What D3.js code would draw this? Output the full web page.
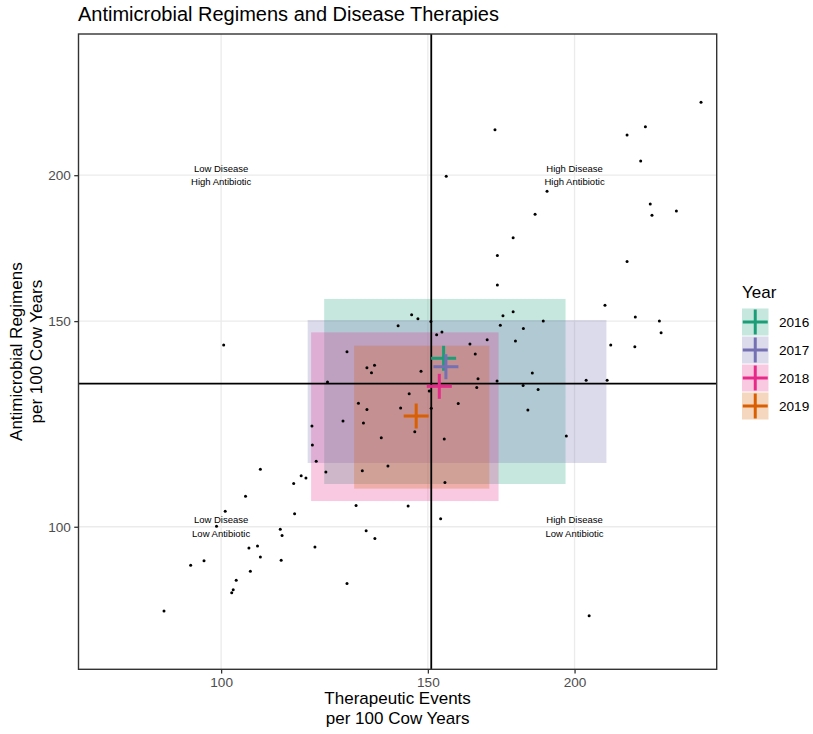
<!DOCTYPE html>
<html>
<head>
<meta charset="utf-8">
<script src="https://cdn.jsdelivr.net/npm/d3@7"></script>
<style>
  html, body { margin: 0; padding: 0; background: #fff; }
  svg { display: block; font-family: "Liberation Sans", Arial, sans-serif; }
</style>
</head>
<body>
<div id="chart"></div>
<script>
// herd-level points: therapeutic events (x) and antimicrobial regimens (y), per 100 cow years
const therapeuticEvents = [
  256.3, 229.8, 221.7, 171.1, 227.7, 155.5, 189.5, 232.0, 232.8, 244.2,
  185.1, 177.3, 171.9, 221.7, 171.9, 212.3, 173.8, 177.3, 225.3, 172.9,
  236.2, 188.1, 180.9, 237.0, 152.6, 154.2, 178.1, 168.5, 162.9, 164.6,
  214.7, 225.1, 150.9, 145.3, 147.1, 141.5, 128.0, 100.5, 148.0, 184.1,
  165.5, 171.8, 204.6, 213.2, 180.8, 165.1, 186.2, 150.4, 159.2, 151.0,
  182.5, 154.9, 196.8, 155.1, 153.8, 205.8, 133.1, 135.1, 134.3, 123.2,
  144.6, 130.9, 142.2, 133.1, 127.0, 132.2, 146.2, 119.5, 119.6, 136.9,
  120.5, 108.0, 131.9, 138.7, 122.8, 117.0, 118.1, 115.3, 104.9, 100.8,
  115.5, 130.3, 144.3, 99.1, 112.3, 112.7, 132.9, 135.2, 105.6, 107.4,
  108.0, 96.7, 94.2, 112.5, 120.2, 105.9, 103.0, 102.4, 102.1, 128.0,
  89.4
];
const antimicrobialRegimens = [
  230.9, 220.0, 216.5, 218.7, 205.7, 199.6, 193.8, 189.0, 184.8, 186.4,
  185.2, 176.8, 170.7, 168.7, 161.1, 154.8, 151.6, 152.8, 151.2, 148.8,
  150.0, 150.0, 147.8, 146.6, 146.0, 146.8, 144.2, 144.6, 143.4, 140.6,
  143.1, 142.6, 149.9, 151.9, 150.7, 148.6, 141.2, 143.1, 135.9, 135.4,
  133.9, 133.3, 133.5, 133.5, 132.1, 131.6, 131.1, 130.7, 127.5, 126.3,
  125.9, 118.9, 119.6, 109.1, 101.6, 83.9, 136.8, 137.5, 135.5, 133.0,
  130.0, 127.6, 126.4, 126.0, 123.2, 122.7, 120.6, 122.0, 117.5, 119.2,
  113.8, 112.0, 111.7, 112.7, 111.4, 110.6, 110.1, 108.9, 106.2, 103.1,
  102.6, 104.3, 104.2, 100.1, 99.5, 98.3, 99.2, 97.7, 95.9, 96.3,
  94.2, 93.5, 92.7, 93.6, 96.1, 91.6, 90.0, 88.3, 87.8, 89.4,
  84.7
];

// yearly summaries
const years = ['2016', '2017', '2018', '2019'];
const yearColors = ['#1B9E77', '#7570B3', '#E7298A', '#D95F02'];
const yearEventsMid = [154.7, 155.4, 153.4, 146.6];
const yearRegimensMid = [139.4, 137.1, 131.9, 124.4];
const yearEventsLow = [122.4, 118.5, 119.3, 129.8];
const yearEventsHigh = [196.5, 212.9, 172.3, 169.2];
const yearRegimensLow = [108.8, 113.4, 105.2, 107.8];
const yearRegimensHigh = [156.7, 150.3, 146.7, 142.9];

// overall reference lines
const refEvents = 151.0;
const refRegimens = 132.6;

const tickValues = [100, 150, 200];
const quadrantLabels = [
  { x: 100, y: 200, text: ['Low Disease', 'High Antibiotic'] },
  { x: 200, y: 200, text: ['High Disease', 'High Antibiotic'] },
  { x: 100, y: 100, text: ['Low Disease', 'Low Antibiotic'] },
  { x: 200, y: 100, text: ['High Disease', 'Low Antibiotic'] }
];

const width = 813, height = 734;
const panel = { left: 78.5, right: 716.7, top: 34, bottom: 669.3 };

const svg = d3.select('#chart').append('svg')
  .attr('width', width)
  .attr('height', height);

const x = d3.scaleLog().domain([75.6, 264.3]).range([panel.left, panel.right]);
const y = d3.scaleLog().domain([75.5, 264.2]).range([panel.bottom, panel.top]);

// ---------- title ----------
svg.append('text')
  .attr('x', 78)
  .attr('y', 21)
  .attr('font-size', 20)
  .attr('fill', '#000')
  .text('Antimicrobial Regimens and Disease Therapies');

// ---------- grid ----------
const grid = svg.append('g');
grid.selectAll('.gx').data(tickValues).join('line')
  .attr('x1', d => x(d)).attr('x2', d => x(d))
  .attr('y1', panel.top).attr('y2', panel.bottom)
  .attr('stroke', '#EBEBEB').attr('stroke-width', 1.3);
grid.selectAll('.gy').data(tickValues).join('line')
  .attr('class', 'gy')
  .attr('y1', d => y(d)).attr('y2', d => y(d))
  .attr('x1', panel.left).attr('x2', panel.right)
  .attr('stroke', '#EBEBEB').attr('stroke-width', 1.3);

// ---------- yearly boxes ----------
const yearIdx = d3.range(years.length);
svg.append('g').selectAll('rect').data(yearIdx).join('rect')
  .attr('x', i => x(yearEventsLow[i]))
  .attr('y', i => y(yearRegimensHigh[i]))
  .attr('width', i => x(yearEventsHigh[i]) - x(yearEventsLow[i]))
  .attr('height', i => y(yearRegimensLow[i]) - y(yearRegimensHigh[i]))
  .attr('fill', i => yearColors[i])
  .attr('fill-opacity', 0.25);

// ---------- points ----------
svg.append('g').selectAll('circle').data(therapeuticEvents).join('circle')
  .attr('cx', d => x(d))
  .attr('cy', (d, i) => y(antimicrobialRegimens[i]))
  .attr('r', 1.5)
  .attr('fill', '#000');

// ---------- reference lines ----------
svg.append('line')
  .attr('x1', x(refEvents)).attr('x2', x(refEvents))
  .attr('y1', panel.top).attr('y2', panel.bottom)
  .attr('stroke', '#000').attr('stroke-width', 1.8);
svg.append('line')
  .attr('x1', panel.left).attr('x2', panel.right)
  .attr('y1', y(refRegimens)).attr('y2', y(refRegimens))
  .attr('stroke', '#000').attr('stroke-width', 1.8);

// ---------- quadrant labels ----------
const ql = svg.append('g')
  .attr('font-size', 9.5)
  .attr('fill', '#000')
  .attr('text-anchor', 'middle');
quadrantLabels.forEach(q => {
  q.text.forEach((t, k) => {
    ql.append('text')
      .attr('x', x(q.x))
      .attr('y', y(q.y) + (k === 0 ? -6.7 : 6.7))
      .attr('dy', '0.35em')
      .text(t);
  });
});

// ---------- year means (plus marks) ----------
const arm = 12.5;
const crosses = svg.append('g').selectAll('g').data(yearIdx).join('g')
  .attr('transform', i => `translate(${x(yearEventsMid[i])},${y(yearRegimensMid[i])})`)
  .attr('stroke', i => yearColors[i])
  .attr('stroke-width', 3);
crosses.append('line').attr('x1', -arm).attr('x2', arm);
crosses.append('line').attr('y1', -arm).attr('y2', arm);

// ---------- panel border ----------
svg.append('rect')
  .attr('x', panel.left).attr('y', panel.top)
  .attr('width', panel.right - panel.left)
  .attr('height', panel.bottom - panel.top)
  .attr('fill', 'none')
  .attr('stroke', '#333333')
  .attr('stroke-width', 1.4);

// ---------- axes ----------
const xAxis = svg.append('g')
  .attr('transform', `translate(0,${panel.bottom})`)
  .call(d3.axisBottom(x).tickValues(tickValues).tickFormat(d3.format('d'))
    .tickSize(4.25).tickSizeOuter(0).tickPadding(3.4));
const yAxis = svg.append('g')
  .attr('transform', `translate(${panel.left},0)`)
  .call(d3.axisLeft(y).tickValues(tickValues).tickFormat(d3.format('d'))
    .tickSize(4.25).tickSizeOuter(0).tickPadding(3.4));
[xAxis, yAxis].forEach(a => {
  a.select('.domain').remove();
  a.selectAll('.tick line').attr('stroke', '#333333').attr('stroke-width', 1.3);
  a.selectAll('.tick text')
    .attr('fill', '#4D4D4D')
    .attr('font-size', 13.6)
    .attr('font-family', '"Liberation Sans", Arial, sans-serif');
});

// axis titles
const cx = (panel.left + panel.right) / 2;
const xt = svg.append('text')
  .attr('text-anchor', 'middle')
  .attr('font-size', 17)
  .attr('fill', '#000');
xt.append('tspan').attr('x', cx).attr('y', 703.5).text('Therapeutic Events');
xt.append('tspan').attr('x', cx).attr('y', 723.5).text('per 100 Cow Years');

const cy = (panel.top + panel.bottom) / 2;
const yt = svg.append('text')
  .attr('text-anchor', 'middle')
  .attr('font-size', 17)
  .attr('fill', '#000')
  .attr('transform', `translate(0,${cy}) rotate(-90)`);
yt.append('tspan').attr('x', 0).attr('y', 22).text('Antimicrobial Regimens');
yt.append('tspan').attr('x', 0).attr('y', 42).text('per 100 Cow Years');

// ---------- legend ----------
const legend = svg.append('g').attr('transform', 'translate(742,0)');
legend.append('text')
  .attr('x', 0).attr('y', 298)
  .attr('font-size', 17)
  .attr('fill', '#000')
  .text('Year');

const keyW = 26.5, keyH = 27, keyStep = 28, keyTop = 308.5;
const keys = legend.selectAll('.key').data(yearIdx).join('g')
  .attr('class', 'key')
  .attr('transform', i => `translate(0,${keyTop + i * keyStep})`);
keys.append('rect')
  .attr('width', keyW).attr('height', keyH)
  .attr('fill', i => yearColors[i])
  .attr('fill-opacity', 0.25);
keys.append('line')
  .attr('x1', keyW / 2 - arm).attr('x2', keyW / 2 + arm)
  .attr('y1', keyH / 2).attr('y2', keyH / 2)
  .attr('stroke', i => yearColors[i]).attr('stroke-width', 3);
keys.append('line')
  .attr('x1', keyW / 2).attr('x2', keyW / 2)
  .attr('y1', keyH / 2 - arm).attr('y2', keyH / 2 + arm)
  .attr('stroke', i => yearColors[i]).attr('stroke-width', 3);
keys.append('text')
  .attr('x', 37).attr('y', keyH / 2)
  .attr('dy', '0.35em')
  .attr('font-size', 13.6)
  .attr('fill', '#000')
  .text(i => years[i]);
</script>
</body>
</html>
